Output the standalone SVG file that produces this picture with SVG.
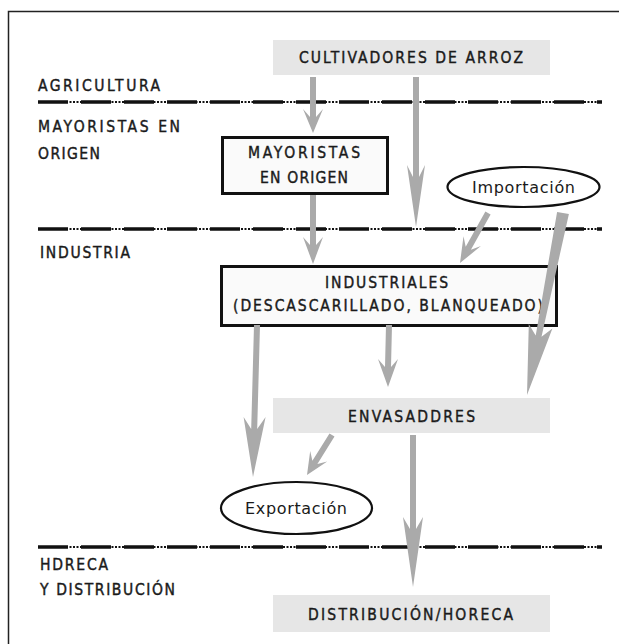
<svg xmlns="http://www.w3.org/2000/svg" width="619" height="644" viewBox="0 0 619 644">
<style>
  .t { font-family: "DejaVu Sans Condensed", "DejaVu Sans", "Liberation Sans", sans-serif; fill: #1a1a1a; stroke: #1a1a1a; stroke-width: 0.4; font-size: 15.5px; }
  .l { font-family: "DejaVu Sans", "Liberation Sans", sans-serif; fill: #1a1a1a; font-size: 16px; }
  .gbox { fill: #e6e6e6; stroke: none; }
  .box { fill: #fafafa; stroke: #111; stroke-width: 3; }
  .ell { fill: #ffffff; stroke: #111; stroke-width: 2.2; }
  .arrow { fill: #aaaaaa; stroke: none; }
  .thick { stroke: #111; stroke-width: 3.5; stroke-dasharray: 30 13; fill: none; }
  .dots { stroke: #111; stroke-width: 2; stroke-dasharray: 2 1.5; fill: none; }
</style>
<rect x="0" y="0" width="619" height="644" fill="#ffffff"/>
<path d="M8.5 644 V11.5 H619" fill="none" stroke="#222" stroke-width="1.5"/>

<g id="separators">
  <line class="dots" x1="38" y1="102" x2="602" y2="102"/>
  <line class="thick" x1="38" y1="102" x2="602" y2="102"/>
  <line class="dots" x1="38" y1="229" x2="602" y2="229"/>
  <line class="thick" x1="38" y1="229" x2="602" y2="229"/>
  <line class="dots" x1="38" y1="547" x2="602" y2="547"/>
  <line class="thick" x1="38" y1="547" x2="602" y2="547"/>
</g>

<g id="stage-labels">
  <text class="t" x="38" y="91" textLength="122" lengthAdjust="spacing">AGRICULTURA</text>
  <text class="t" x="38" y="132" textLength="142" lengthAdjust="spacing">MAYORISTAS EN</text>
  <text class="t" x="38" y="159" textLength="62" lengthAdjust="spacing">ORIGEN</text>
  <text class="t" x="40" y="258" textLength="90" lengthAdjust="spacing">INDUSTRIA</text>
  <text class="t" x="40" y="570" textLength="68" lengthAdjust="spacing">HDRECA</text>
  <text class="t" x="40" y="595" textLength="135" lengthAdjust="spacing">Y DISTRIBUCIÓN</text>
</g>

<g id="node-cultivadores">
  <rect class="gbox" x="273" y="40" width="277" height="35"/>
  <text class="t" x="299" y="63" textLength="224" lengthAdjust="spacing">CULTIVADORES DE ARROZ</text>
</g>

<g id="node-mayoristas">
  <rect class="box" x="222.5" y="137.5" width="165" height="56"/>
  <text class="t" x="248" y="158" textLength="112" lengthAdjust="spacing">MAYORISTAS</text>
  <text class="t" x="260" y="183" textLength="88" lengthAdjust="spacing">EN ORIGEN</text>
</g>

<g id="node-importacion">
  <ellipse class="ell" cx="523.5" cy="187" rx="76" ry="20"/>
  <text class="l" x="472" y="192.5" textLength="103" lengthAdjust="spacing">Importación</text>
</g>

<g id="node-industriales">
  <rect class="box" x="221.5" y="266.5" width="335" height="59"/>
  <text class="t" x="325" y="288" textLength="123" lengthAdjust="spacing">INDUSTRIALES</text>
  <text class="t" x="233" y="311" textLength="310" lengthAdjust="spacing">(DESCASCARILLADO, BLANQUEADO)</text>
</g>

<g id="node-envasadores">
  <rect class="gbox" x="273" y="398" width="277" height="35"/>
  <text class="t" x="348" y="422" textLength="127" lengthAdjust="spacing">ENVASADDRES</text>
</g>

<g id="node-exportacion">
  <ellipse class="ell" cx="296.5" cy="508" rx="75.5" ry="26"/>
  <text class="l" x="245" y="513.5" textLength="102" lengthAdjust="spacing">Exportación</text>
</g>

<g id="node-distribucion">
  <rect class="gbox" x="273" y="595" width="277" height="37"/>
  <text class="t" x="308" y="620" textLength="205" lengthAdjust="spacing">DISTRIBUCIÓN/HORECA</text>
</g>

<g id="connectors">
  <polygon class="arrow" points="310,77 316,77 316,117 323,109 313,133 303,109 310,117"/>
  <polygon class="arrow" points="413,77 419,77 419,177 425,165 416,227 407,165 413,177"/>
  <polygon class="arrow" points="310,195 316,195 316,245 323,237 313,264 303,237 310,245"/>
  <polygon class="arrow" points="490.6,214.5 470.9,249.7 480.9,246.1 460,263 463.5,236.3 465.7,246.7 485.4,211.5"/>
  <polygon class="arrow" points="568.9,214 541.5,336.7 552.4,328.6 527,395 528.8,324 535.7,335.5 557.1,212"/>
  <polygon class="arrow" points="260,325 257.2,429 265.6,417 253,477 243.6,417 251.2,429 254,325"/>
  <polygon class="arrow" points="392,325 391,367 398,359 388,387 378,359 385,367 386,325"/>
  <polygon class="arrow" points="334.5,436.6 317.4,463.9 327.2,461.6 307,475 310.2,451 312.4,460.7 329.5,433.4"/>
  <polygon class="arrow" points="416,435 416,529 423,517 413,587 403,517 410,529 410,435"/>
</g>
</svg>
